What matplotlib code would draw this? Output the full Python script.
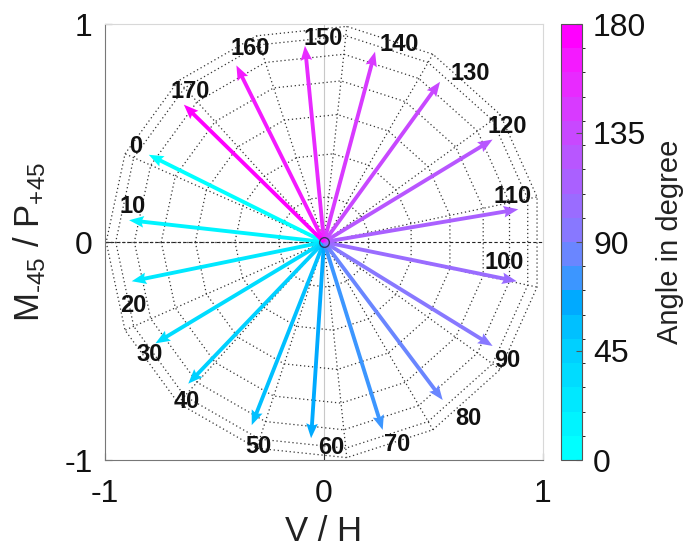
import numpy as np
import matplotlib
matplotlib.use("Agg")
import matplotlib.pyplot as plt
from matplotlib.colors import ListedColormap, BoundaryNorm
from matplotlib.cm import ScalarMappable

plt.rcParams['font.family'] = ['Liberation Sans', 'DejaVu Sans']
plt.rcParams['axes.unicode_minus'] = False
plt.rcParams['mathtext.fontset'] = 'custom'
plt.rcParams['mathtext.rm'] = 'Liberation Sans'

# ---- data ----
angles = [0, 10, 20, 30, 40, 50, 60, 70, 80, 90, 100, 110, 120, 130, 140, 150, 160, 170]
vec_x = [-0.80, -0.89, -0.878, -0.77, -0.62, -0.33, -0.059, 0.268, 0.542, 0.77,
         0.88, 0.887, 0.77, 0.53, 0.233, -0.087, -0.40, -0.64]
vec_y = [0.40, 0.10, -0.18, -0.465, -0.65, -0.84, -0.90, -0.862, -0.725, -0.477,
         -0.18, 0.15, 0.47, 0.735, 0.873, 0.90, 0.81, 0.63]
label_x = [-0.858, -0.874, -0.871, -0.795, -0.627, -0.300, 0.031, 0.336, 0.659, 0.837,
           0.823, 0.862, 0.837, 0.670, 0.344, -0.003, -0.338, -0.611]
label_y = [0.437, 0.162, -0.292, -0.518, -0.732, -0.936, -0.942, -0.927, -0.809, -0.545,
           -0.095, 0.207, 0.532, 0.771, 0.907, 0.934, 0.889, 0.689]
arrow_colors = ['#00ffff', '#00f4ff', '#00e8ff', '#00dcff', '#00d0ff', '#00c0ff',
                '#00aaff', '#3c96ff', '#6a86ff', '#8878ff', '#9a6cff', '#aa60ff',
                '#b856ff', '#c848ff', '#d83aff', '#e82aff', '#f41aff', '#ff00ff']
ticks = [-1, 0, 1]
cbar_ticks = [0, 45, 90, 135, 180]

# sphere-mesh grid (azimuth step 24 deg, elevation step 12 deg)
mesh_az = np.deg2rad(np.arange(-180, 181, 24))
mesh_el = np.deg2rad(np.arange(6, 90, 12))

fig = plt.figure(figsize=(6.84, 5.48), dpi=100)
ax = fig.add_axes([105/684, 1-460/548, 438/684, 436/548])
ax.set_xlim(-1, 1)
ax.set_ylim(-1, 1)

# background axis lines
ax.plot([0, 0], [-1, 1], color='#c8c8c8', lw=0.8, zorder=1)
ax.plot([-1, 1], [0, 0], color='#222222', lw=0.8, ls=(0, (3, 2)), zorder=1)

# rings
for el in mesh_el:
    r = np.cos(el)
    ax.plot(r*np.cos(mesh_az), r*np.sin(mesh_az), color='#333333', lw=0.9,
            ls=(0, (1, 2.2)), zorder=1)
# spokes
rmax = np.cos(mesh_el[0])
for az in mesh_az[:-1]:
    ax.plot([0, rmax*np.cos(az)], [0, rmax*np.sin(az)], color='#333333', lw=0.9,
            ls=(0, (1, 2.2)), zorder=1)

ax.quiver(np.zeros(len(vec_x)), np.zeros(len(vec_y)), vec_x, vec_y,
          color=arrow_colors, angles='xy', scale_units='xy', scale=1,
          width=0.0088, headwidth=3.0, headlength=3.8, headaxislength=3.4, zorder=3)

ax.plot([0], [0], marker='o', ms=7, mfc='none', mec='#333366', mew=1.0, zorder=4)

for a, lx, ly in zip(angles, label_x, label_y):
    ax.text(lx, ly, str(a), fontsize=17, fontweight='bold', ha='center', va='center',
            color='#111111', zorder=5)

ax.set_xticks(ticks)
ax.set_yticks(ticks)
ax.set_xticklabels([str(t) for t in ticks])
ax.set_yticklabels([str(t) for t in ticks])
ax.tick_params(direction='in', length=5, width=0.8, labelsize=23, colors='#333333',
               labelcolor='#111111')
ax.tick_params(axis='x', pad=14)
ax.tick_params(axis='y', pad=9)
for s in ['left', 'bottom']:
    ax.spines[s].set_color('#777777')
for s in ['top', 'right']:
    ax.spines[s].set_color('#d8d8d8')
ax.set_xlabel('V / H', fontsize=25, color='#222222', labelpad=4)
ax.set_ylabel('M$_{\\text{-45}}$ / P$_{\\mathregular{+45}}$', fontsize=25,
              color='#222222', labelpad=12)

# colorbar
cax = fig.add_axes([561/684, 1-460/548, 21/684, 436/548])
cmap = ListedColormap(arrow_colors)
norm = BoundaryNorm(np.arange(0, 181, 10), cmap.N)
cb = fig.colorbar(ScalarMappable(norm=norm, cmap=cmap), cax=cax, ticks=cbar_ticks)
cb.outline.set_edgecolor('#555555')
cb.outline.set_linewidth(0.8)
cb.ax.tick_params(direction='in', length=4, width=0.8, labelsize=23, colors='#555555',
                  labelcolor='#111111', pad=8)
cb.set_label('Angle in degree', fontsize=21, color='#222222', labelpad=7)

fig.savefig('out.png', dpi=100)
